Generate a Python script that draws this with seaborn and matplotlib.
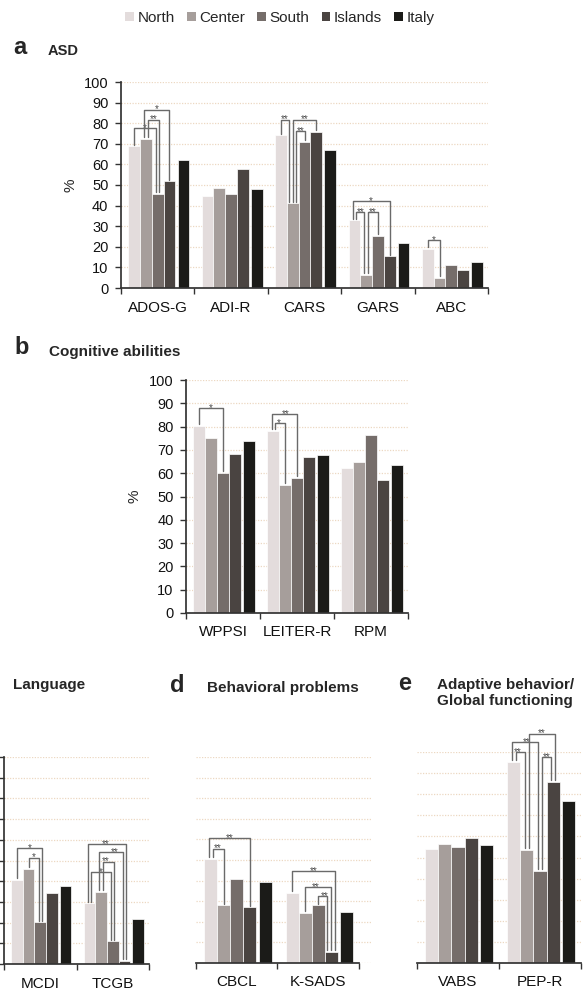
import numpy as np
import pandas as pd
import matplotlib
matplotlib.use('Agg')
import matplotlib.pyplot as plt
from matplotlib.patches import Patch
import seaborn as sns

# regions (hue) and their grey shades
regions = ['North', 'Center', 'South', 'Islands', 'Italy']
palette = ['#e3dcdc', '#a69e9b', '#756d6a', '#4a4441', '#1b1b18']

# a - ASD, values per test in region order
asd_tests = ['ADOS-G', 'ADI-R', 'CARS', 'GARS', 'ABC']
ados_g = [68.8, 72.3, 45.6, 51.8, 62.3]
adi_r = [44.5, 48.5, 45.6, 57.9, 48.2]
cars = [74.1, 41.1, 70.9, 75.7, 66.8]
gars = [32.8, 6.3, 25.2, 15.4, 22.0]
abc = [19.1, 5.0, 11.0, 8.9, 12.6]

# b - cognitive abilities
cog_tests = ['WPPSI', 'LEITER-R', 'RPM']
wppsi = [80.3, 74.9, 60.0, 68.3, 73.7]
leiter_r = [78.0, 54.9, 58.1, 67.1, 67.7]
rpm = [62.1, 65.0, 76.3, 57.0, 63.7]

# c - language
lang_tests = ['MCDI', 'TCGB']
mcdi = [40.8, 46.1, 20.1, 34.1, 37.5]
tcgb = [29.3, 35.0, 10.9, 1.6, 21.9]

# d - behavioral problems
beh_tests = ['CBCL', 'K-SADS']
cbcl = [50.6, 28.0, 40.8, 27.0, 39.3]
k_sads = [34.0, 24.4, 28.0, 5.3, 25.0]

# e - adaptive behavior / global functioning
adapt_tests = ['VABS', 'PEP-R']
vabs = [53.9, 56.2, 55.1, 59.4, 55.7]
pep_r = [95.3, 53.5, 43.8, 85.8, 76.7]

# significance brackets: (test, region, region, bracket height %, label)
asd_sig = [('ADOS-G', 'North', 'South', 77.7, '*'),
           ('ADOS-G', 'Center', 'South', 81.7, '**'),
           ('ADOS-G', 'Center', 'Islands', 86.6, '*'),
           ('CARS', 'North', 'Center', 81.7, '**'),
           ('CARS', 'Center', 'South', 76.0, '**'),
           ('CARS', 'Center', 'Islands', 81.7, '**'),
           ('GARS', 'North', 'Center', 36.9, '**'),
           ('GARS', 'Center', 'South', 36.9, '**'),
           ('GARS', 'North', 'Islands', 42.2, '*'),
           ('ABC', 'North', 'Center', 23.1, '*')]
cog_sig = [('WPPSI', 'North', 'South', 87.9, '*'),
           ('LEITER-R', 'North', 'Center', 81.4, '*'),
           ('LEITER-R', 'North', 'South', 85.3, '**')]
lang_sig = [('MCDI', 'North', 'South', 55.8, '*'),
            ('MCDI', 'Center', 'South', 51.4, '*'),
            ('TCGB', 'North', 'South', 44.5, '*'),
            ('TCGB', 'Center', 'South', 49.4, '**'),
            ('TCGB', 'Center', 'Islands', 54.2, '**'),
            ('TCGB', 'North', 'Islands', 57.9, '**')]
beh_sig = [('CBCL', 'North', 'Center', 55.5, '**'),
           ('CBCL', 'North', 'Islands', 60.7, '**'),
           ('K-SADS', 'South', 'Islands', 32.4, '**'),
           ('K-SADS', 'Center', 'Islands', 36.9, '**'),
           ('K-SADS', 'North', 'Islands', 44.5, '**')]
adapt_sig = [('PEP-R', 'South', 'Islands', 97.6, '**'),
             ('PEP-R', 'North', 'Center', 100.0, '**'),
             ('PEP-R', 'North', 'South', 104.7, '**'),
             ('PEP-R', 'Center', 'Islands', 108.7, '**')]

W, H = 586, 990
sns.set_theme(style='white')
plt.rcParams['font.family'] = ['Liberation Sans', 'DejaVu Sans']

GRID_C = '#ecd8c2'
SPINE_C = '#333333'
SIG_C = '#6a6a6a'
STAR_DY = -2.0  # asterisks sit high in the glyph box, pull baseline down

sig_labels = []


def frac(x0, y_top, x1, y_bot):
    # pixel box -> figure fraction rect
    return [x0 / W, 1 - y_bot / H, (x1 - x0) / W, (y_bot - y_top) / H]


def draw_brackets(ax, tests, rows, sig):
    bw = ax.containers[0][0].get_width()
    ends = {}
    for k, (t, a, b, h, lab) in enumerate(sig):
        ia, ib = regions.index(a), regions.index(b)
        ends.setdefault((t, ia), []).append(((0, h) if ib < ia else (1, -h), k))
        ends.setdefault((t, ib), []).append(((0, h) if ia < ib else (1, -h), k))
    legx = {}
    for (t, r), lst in ends.items():
        lst.sort()
        bar = ax.containers[r][tests.index(t)]
        xc = bar.get_x() + bar.get_width() / 2
        n = len(lst)
        for i, (_, k) in enumerate(lst):
            legx[(k, r)] = xc + (i - (n - 1) / 2) * bw * 0.3
    anns = []
    for k, (t, a, b, h, lab) in enumerate(sig):
        ia, ib = regions.index(a), regions.index(b)
        va = rows[tests.index(t)][ia]
        vb = rows[tests.index(t)][ib]
        x1, x2 = legx[(k, ia)], legx[(k, ib)]
        ax.plot([x1, x1, x2, x2], [va + 0.8, h, h, vb + 0.8], color=SIG_C,
                lw=1.0, clip_on=False, zorder=5)
        anns.append(ax.annotate(lab, xy=((x1 + x2) / 2, h),
                                xytext=(0, STAR_DY), textcoords='offset points',
                                ha='center', va='baseline', fontsize=7,
                                color='#4a4a4a', annotation_clip=False))
    sig_labels.append(anns)


def draw_panel(ax, tests, rows, sig, show_y=True, show_ylabels=True,
               extra=0.0, ylabel_x=-0.13):
    df = pd.DataFrame({
        'test': np.repeat(tests, len(regions)),
        'region': regions * len(tests),
        'pct': np.concatenate(rows),
    })
    sns.barplot(data=df, x='test', y='pct', hue='region', order=tests,
                hue_order=regions, palette=palette, saturation=1, width=0.8,
                edgecolor='white', linewidth=0.5, errorbar=None,
                legend=False, ax=ax)
    # Italy sits a little apart from the four regions
    for bar in ax.containers[-1]:
        bar.set_x(bar.get_x() + 0.03)
    n = len(tests)
    ax.set_xlim(-0.5, n - 0.5 + extra)
    ax.set_ylim(0, 100)
    ax.set_yticks(range(0, 101, 10))
    ax.yaxis.grid(True, linestyle=(0, (1, 1.2)), color=GRID_C, linewidth=0.9)
    ax.set_axisbelow(True)
    ax.set_xlabel('')
    ax.set_ylabel('%' if show_ylabels else '', fontsize=11)
    ax.yaxis.set_label_coords(ylabel_x, 0.5)
    ax.set_xticks(np.arange(-0.5, n), minor=True)
    ax.tick_params(axis='x', which='major', length=0, pad=9,
                   labelsize=11, labelcolor='#111111')
    ax.tick_params(axis='x', which='minor', length=4, width=1,
                   direction='out', color=SPINE_C, bottom=True)
    for s in ['top', 'right']:
        ax.spines[s].set_visible(False)
    ax.spines['bottom'].set_color(SPINE_C)
    ax.spines['bottom'].set_bounds(-0.5, n - 0.5)
    if show_y:
        ax.spines['left'].set_color(SPINE_C)
        ax.tick_params(axis='y', length=4, width=1, direction='out',
                       color=SPINE_C, left=True, pad=5,
                       labelleft=show_ylabels,
                       labelsize=10.5, labelcolor='#111111')
    else:
        ax.spines['left'].set_visible(False)
        ax.tick_params(axis='y', left=False, labelleft=False)
    draw_brackets(ax, tests, rows, sig)


fig = plt.figure(figsize=(W / 100, H / 100), dpi=100)

ax_a = fig.add_axes(frac(121, 82, 488, 288))
draw_panel(ax_a, asd_tests, [ados_g, adi_r, cars, gars, abc], asd_sig,
           ylabel_x=-0.118)

ax_b = fig.add_axes(frac(186, 380, 408, 613))
draw_panel(ax_b, cog_tests, [wppsi, leiter_r, rpm], cog_sig, ylabel_x=-0.2)

# panel c is cut at the left edge of the image, its y labels fall outside
ax_c = fig.add_axes(frac(4, 757, 149, 964))
draw_panel(ax_c, lang_tests, [mcdi, tcgb], lang_sig, show_ylabels=False)

ax_d = fig.add_axes(frac(196, 757, 372, 963))
draw_panel(ax_d, beh_tests, [cbcl, k_sads], beh_sig, show_y=False,
           show_ylabels=False, extra=0.16)

ax_e = fig.add_axes(frac(417, 752, 581, 963))
draw_panel(ax_e, adapt_tests, [vabs, pep_r], adapt_sig, show_y=False,
           show_ylabels=False)

# panel letters and titles
def label(x, y, s, size):
    fig.text(x / W, 1 - y / H, s, fontsize=size, fontweight='bold',
             va='center', ha='left')

label(13, 48, 'a', 17)
label(48, 51, 'ASD', 10.5)
label(14, 348, 'b', 17)
label(49, 352, 'Cognitive abilities', 11)
label(13, 685, 'Language', 11)
label(170, 685, 'd', 17)
label(207, 688, 'Behavioral problems', 11)
label(398, 684, 'e', 17)
fig.text(437 / W, 1 - 693 / H, 'Adaptive behavior/\nGlobal functioning',
         fontsize=11, fontweight='bold', va='center', ha='left',
         linespacing=1.15)

handles = [Patch(facecolor=c, edgecolor='none') for c in palette]
fig.legend(handles, regions, loc='center', bbox_to_anchor=(280 / W, 1 - 18 / H),
           ncol=5, frameon=False, fontsize=11, handlelength=0.55,
           handleheight=0.55, handletextpad=0.25, columnspacing=0.8)

# nudge stacked asterisk labels sideways where their boxes collide
fig.canvas.draw()
renderer = fig.canvas.get_renderer()
for anns in sig_labels:
    for _ in range(3):
        for i in range(len(anns)):
            for j in range(i + 1, len(anns)):
                bi = anns[i].get_window_extent(renderer)
                bj = anns[j].get_window_extent(renderer)
                if not bi.overlaps(bj):
                    continue
                left, right = (anns[i], anns[j]) if bi.x0 <= bj.x0 else (anns[j], anns[i])
                lb, rb = left.get_window_extent(renderer), right.get_window_extent(renderer)
                shift = (lb.x1 - rb.x0) / 2 + 0.6
                shift_pt = shift * 72 / fig.dpi
                left.xyann = (left.xyann[0] - shift_pt, STAR_DY)
                right.xyann = (right.xyann[0] + shift_pt, STAR_DY)

fig.savefig('out.png', dpi=100)
